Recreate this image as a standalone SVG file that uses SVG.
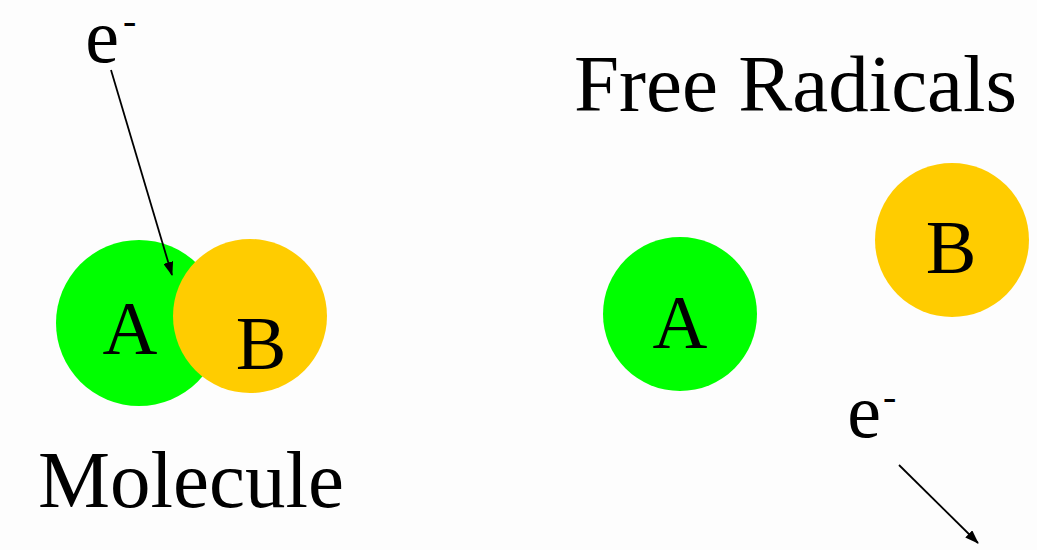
<svg xmlns="http://www.w3.org/2000/svg" width="1037" height="550" viewBox="0 0 1037 550">
  <style>
    .lbl { font-family: "Liberation Serif", "Times New Roman", serif; fill: #000; }
    .big { font-size: 81px; }
    .atom { font-size: 76px; text-anchor: middle; }
    .sup { font-size: 40px; }
    .a { fill: #00ff00; }
    .b { fill: #ffcc00; }
    .conn { stroke: #000; stroke-width: 1.8; fill: none; marker-end: url(#head); }
  </style>
  <defs>
    <marker id="head" viewBox="0 0 14 10" refX="13" refY="5" markerWidth="14" markerHeight="10" markerUnits="userSpaceOnUse" orient="auto">
      <path d="M0,0 L14,5 L0,10 z" fill="#000"/>
    </marker>
  </defs>
  <rect width="1037" height="550" fill="#fdfdfd"/>

  <!-- bonded molecule -->
  <g id="molA">
    <circle class="a" cx="139" cy="323" r="83"/>
    <text class="lbl atom" x="130" y="354">A</text>
  </g>
  <g id="molB">
    <circle class="b" cx="250" cy="316" r="77"/>
    <text class="lbl atom" x="261" y="369">B</text>
  </g>

  <!-- separated radicals -->
  <g id="radA">
    <circle class="a" cx="680" cy="314" r="77"/>
    <text class="lbl atom" x="680" y="348">A</text>
  </g>
  <g id="radB">
    <circle class="b" cx="952" cy="240" r="77"/>
    <text class="lbl atom" x="951" y="273">B</text>
  </g>

  <!-- electron labels -->
  <g id="e1">
    <text class="lbl atom" x="102" y="62">e</text>
    <text class="lbl sup" x="123" y="34">-</text>
  </g>
  <g id="e2">
    <text class="lbl atom" x="864" y="437">e</text>
    <text class="lbl sup" x="883" y="410">-</text>
  </g>

  <!-- captions -->
  <g id="molecule">
    <text class="lbl big" x="38" y="507">Molecule</text>
  </g>
  <g id="radicals">
    <text class="lbl big" x="574" y="111">Free Radicals</text>
  </g>

  <!-- electron paths -->
  <g id="connectors">
    <line class="conn" x1="111" y1="70" x2="172" y2="275"/>
    <line class="conn" x1="899" y1="465" x2="978" y2="543"/>
  </g>
</svg>
